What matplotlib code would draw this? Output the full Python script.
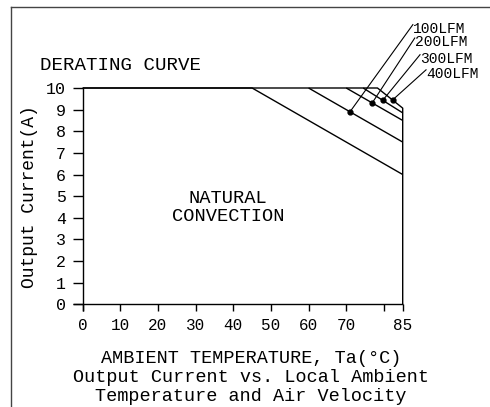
import numpy as np
import matplotlib
matplotlib.use("Agg")
import matplotlib.pyplot as plt
from matplotlib.lines import Line2D

plt.rcParams['font.family'] = ['Liberation Mono', 'DejaVu Sans']

# ---- data ----
x_ticks = [0, 10, 20, 30, 40, 50, 60, 70, 80, 85]
x_ticklabels = ['0', '10', '20', '30', '40', '50', '60', '70', '', '85']
y_ticks = [0, 1, 2, 3, 4, 5, 6, 7, 8, 9, 10]

natural_temp = [0, 45, 85]
natural_curr = [10, 10, 6.0]
lfm100_temp = [60, 85]
lfm100_curr = [10, 7.5]
lfm200_temp = [70, 85]
lfm200_curr = [10, 8.5]
lfm300_temp = [74.5, 85]
lfm300_curr = [10, 8.85]
lfm400_temp = [0, 78.3, 85, 85]
lfm400_curr = [10, 10, 9.07, 0]

labels = ['100LFM', '200LFM', '300LFM', '400LFM']
dot_temp = [71.0, 76.9, 79.7, 82.3]
label_temp = [87.7, 88.2, 89.6, 91.2]
label_curr = [12.93, 12.31, 11.54, 10.84]

W, H = 490, 407
fig = plt.figure(figsize=(W / 100, H / 100), dpi=100)
ax = fig.add_axes([82.7 / W, (H - 304.3) / H, 320 / W, 216.3 / H])
ax.set_xlim(0, 85)
ax.set_ylim(0, 10)
for s in ax.spines.values():
    s.set_visible(False)

lw = 1.0
kw = dict(color='black', lw=lw, clip_on=False, solid_capstyle='butt')
# axes lines
ax.plot([0, 0], [-0.33, 10], **kw)
ax.plot([-2.55, 85], [0, 0], **kw)

ax.plot(natural_temp, natural_curr, **kw)
ax.plot(lfm100_temp, lfm100_curr, **kw)
ax.plot(lfm200_temp, lfm200_curr, **kw)
ax.plot(lfm300_temp, lfm300_curr, **kw)
ax.plot(lfm400_temp, lfm400_curr, **kw)

curves = [(lfm100_temp, lfm100_curr), (lfm200_temp, lfm200_curr),
          (lfm300_temp, lfm300_curr), (lfm400_temp[1:3], lfm400_curr[1:3])]
for (ct, cc), dt, lt, lc, lab in zip(curves, dot_temp, label_temp, label_curr, labels):
    dc = np.interp(dt, ct, cc)
    ax.plot([dt, lt], [dc, lc], color='black', lw=0.8, clip_on=False)
    ax.plot([dt], [dc], 'o', color='black', ms=3.5, clip_on=False)
    ax.text(lt, lc - 0.18, lab, ha='left', va='center', fontsize=10.5)

ax.set_xticks(x_ticks)
ax.set_xticklabels(x_ticklabels)
ax.set_yticks(y_ticks)
ax.tick_params(axis='x', direction='out', length=5, width=lw, pad=5, labelsize=11.5)
ax.tick_params(axis='y', direction='out', length=7.2, width=lw, pad=5, labelsize=12)

ax.set_ylabel('Output Current(A)', fontsize=13, va='center', ha='center')
ax.yaxis.set_label_coords(-0.165, 0.5)
ax.set_xlabel('AMBIENT TEMPERATURE, Ta(°C)\nOutput Current vs. Local Ambient\nTemperature and Air Velocity',
              fontsize=13.3, va='center', ha='center', linespacing=1.15)
ax.xaxis.set_label_coords(0.526, -0.338)

ax.text(-0.133, 1.106, 'DERATING CURVE', transform=ax.transAxes, ha='left', va='center', fontsize=13.8)
ax.text(38.6, 4.46, 'NATURAL\nCONVECTION', ha='center', va='center', fontsize=13.5, linespacing=1.1)

# outer frame (partial)
fx = 11 / W
fy = 1 - 7.3 / H
fig.add_artist(Line2D([fx, fx], [0, fy], color='#444444', lw=1.0, transform=fig.transFigure))
fig.add_artist(Line2D([fx, 1], [fy, fy], color='#444444', lw=1.0, transform=fig.transFigure))

fig.savefig('out.png', dpi=100)
